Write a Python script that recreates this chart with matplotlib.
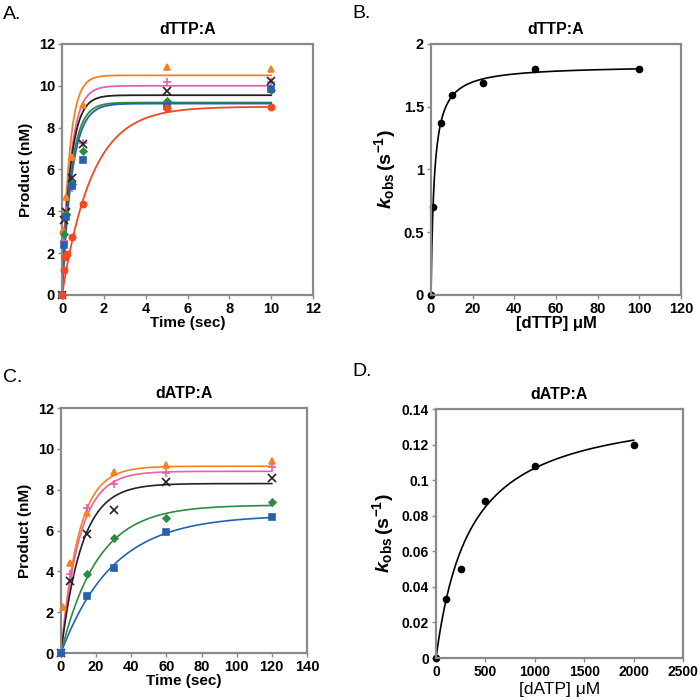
import matplotlib
matplotlib.use("Agg")
import matplotlib.pyplot as plt
import numpy as np

plt.rcParams['font.family'] = ['Liberation Sans', 'DejaVu Sans']
plt.rcParams['font.weight'] = 'bold'
plt.rcParams['mathtext.fontset'] = 'custom'
plt.rcParams['mathtext.it'] = 'Liberation Sans:italic:bold'
plt.rcParams['mathtext.rm'] = 'Liberation Sans:bold'
plt.rcParams['mathtext.bf'] = 'Liberation Sans:bold'

# colours of the series (orange, pink, black, green, blue, red)
cols = ['#f58220', '#e860a8', '#222222', '#2e8b45', '#2860b0', '#f04a22']
marks = ['^', '+', 'x', 'D', 's', 'o']

# A. dTTP:A time courses
tA = [[0, 0.05, 0.1, 0.2, 0.5, 1, 5, 10],
      [0, 0.1, 0.2, 0.5, 1, 5, 10],
      [0, 0.1, 0.2, 0.5, 1, 5, 10],
      [0, 0.1, 0.2, 0.5, 1, 5, 10],
      [0, 0.1, 0.2, 0.5, 1, 5, 10],
      [0, 0.1, 0.15, 0.25, 0.5, 1, 5, 10]]
yA = [[0, 3.1, 3.85, 4.7, 6.6, 9.1, 10.9, 10.8],
      [0, 2.6, 4.05, 5.1, 7.25, 10.2, 10.2],
      [0, 3.6, 3.95, 5.6, 7.2, 9.75, 10.22],
      [0, 2.9, 3.85, 5.3, 6.87, 9.25, 9.8],
      [0, 2.4, 3.75, 5.2, 6.45, 9.05, 9.85],
      [0, 1.2, 1.8, 1.95, 2.75, 4.35, 8.95, 9.0]]
ampA = [10.5, 10.0, 9.55, 9.2, 9.15, 9.0]
kA = [2.9, 2.5, 2.5, 2.3, 2.1, 0.7]

# B. kobs vs [dTTP]
dttp = [0, 1, 5, 10, 25, 50, 100]
kobs_t = [0, 0.7, 1.37, 1.59, 1.69, 1.8, 1.8]
kmax_t, kd_t = 1.83, 1.57

# C. dATP:A time courses
tC = [[0, 1, 5, 15, 30, 60, 120],
      [0, 5, 15, 30, 60, 120],
      [0, 5, 15, 30, 60, 120],
      [0, 15, 30, 60, 120],
      [0, 15, 30, 60, 120]]
yC = [[0, 2.24, 4.4, 6.88, 8.88, 9.2, 9.4],
      [0, 3.87, 7.09, 8.26, 8.83, 9.1],
      [0, 3.54, 5.85, 6.99, 8.39, 8.57],
      [0, 3.87, 5.61, 6.6, 7.38],
      [0, 2.78, 4.16, 5.92, 6.68]]
ampC = [9.15, 8.9, 8.3, 7.25, 6.75]
kC = [0.1, 0.095, 0.085, 0.048, 0.034]

# D. kobs vs [dATP]
datp = [0, 100, 250, 500, 1000, 2000]
kobs_a = [0, 0.033, 0.05, 0.088, 0.108, 0.12]
kmax_a, kd_a = 0.1436, 345

frame = '#8a8a8a'
klabel = r'$k_{\mathrm{obs}}\,(\mathrm{s}^{-1})$'


def style(ax, xlim, xticks, ylim, yticks, yfmt=None, size=10.5):
    ax.set_xlim(xlim)
    ax.set_ylim(ylim)
    ax.set_xticks(xticks)
    ax.set_yticks(yticks)
    if yfmt:
        ax.set_yticklabels([yfmt(v) for v in yticks])
    for s in ax.spines.values():
        s.set_color(frame)
        s.set_linewidth(1.6)
    ax.tick_params(direction='out', length=3, width=1, color=frame,
                   labelsize=size, pad=2)
    for lab in ax.get_xticklabels() + ax.get_yticklabels():
        lab.set_fontweight('bold')


def marker_size(m):
    if m in '+x':
        return 6
    if m == 'D':
        return 3.5
    return 4.5


fig = plt.figure(figsize=(7, 7), dpi=100)
axA = fig.add_axes([0.0886, 0.5786, 0.3586, 0.3586])
axB = fig.add_axes([0.6157, 0.5786, 0.357, 0.3586])
axC = fig.add_axes([0.0871, 0.0671, 0.3514, 0.35])
axD = fig.add_axes([0.6229, 0.06, 0.3529, 0.3557])

# panel A
tt = np.linspace(0, 10, 400)
for i in range(6):
    axA.plot(tt, ampA[i] * (1 - np.exp(-kA[i] * tt)), color=cols[i], lw=1.3, zorder=2)
for i in range(6):
    axA.plot(tA[i], yA[i], ls='none', marker=marks[i], color=cols[i],
             ms=marker_size(marks[i]), mew=1.2, zorder=3, clip_on=False)
style(axA, (0, 12), range(0, 13, 2), (0, 12), range(0, 13, 2))
axA.set_title('dTTP:A', fontsize=11.5, fontweight='bold', pad=7)
axA.set_xlabel('Time (sec)', fontsize=11, fontweight='bold', labelpad=0)
axA.set_ylabel('Product (nM)', fontsize=11, fontweight='bold', labelpad=4)

# panel B
xb = np.linspace(0, 100, 500)
axB.plot(xb, kmax_t * xb / (kd_t + xb), color='black', lw=1.2)
axB.plot(dttp, kobs_t, 'o', color='black', ms=4.5, clip_on=False)
style(axB, (0, 120), range(0, 121, 20), (0, 2), [0, 0.5, 1, 1.5, 2],
      yfmt=lambda v: '%g' % v)
axB.set_title('dTTP:A', fontsize=11.5, fontweight='bold', pad=7)
axB.set_xlabel('[dTTP] \u03bcM', fontsize=12, fontweight='bold', labelpad=0)
axB.set_ylabel(klabel, fontsize=14, labelpad=4)

# panel C
tc = np.linspace(0, 120, 500)
for i in range(5):
    axC.plot(tc, ampC[i] * (1 - np.exp(-kC[i] * tc)), color=cols[i], lw=1.2, zorder=2)
for i in range(5):
    axC.plot(tC[i], yC[i], ls='none', marker=marks[i], color=cols[i],
             ms=marker_size(marks[i]), mew=1.2, zorder=3, clip_on=False)
style(axC, (0, 140), range(0, 141, 20), (0, 12), range(0, 13, 2))
axC.set_title('dATP:A', fontsize=11.5, fontweight='bold', pad=7)
axC.set_xlabel('Time (sec)', fontsize=11, fontweight='bold', labelpad=0)
axC.set_ylabel('Product (nM)', fontsize=11, fontweight='bold', labelpad=4)

# panel D
xd = np.linspace(0, 2000, 500)
axD.plot(xd, kmax_a * xd / (kd_a + xd), color='black', lw=1.2)
axD.plot(datp, kobs_a, 'o', color='black', ms=4.5, clip_on=False)
style(axD, (0, 2500), range(0, 2501, 500), (0, 0.14),
      [0, 0.02, 0.04, 0.06, 0.08, 0.1, 0.12, 0.14], yfmt=lambda v: '%g' % v,
      size=10)
axD.set_title('dATP:A', fontsize=11.5, fontweight='bold', pad=7)
axD.set_xlabel('[dATP] \u03bcM', fontsize=12.5, fontweight='normal', labelpad=2)
axD.set_ylabel(klabel, fontsize=14, labelpad=4)

# panel letters
for x, y, s in [(0.004, 0.979, 'A.'), (0.504, 0.981, 'B.'),
                (0.004, 0.46, 'C.'), (0.504, 0.469, 'D.')]:
    fig.text(x, y, s, fontsize=14, fontweight='normal', va='center', ha='left')

fig.savefig('out.png', dpi=100)
